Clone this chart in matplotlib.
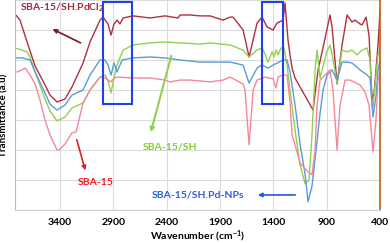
import matplotlib.pyplot as plt
from matplotlib.patches import Rectangle

plt.rcParams['font.family'] = ['Lato', 'DejaVu Sans']
plt.rcParams['font.weight'] = 'bold'
plt.rcParams['mathtext.fontset'] = 'custom'
plt.rcParams['mathtext.rm'] = 'Lato:bold'
plt.rcParams['mathtext.it'] = 'Lato:bold'
plt.rcParams['mathtext.bf'] = 'Lato:bold'

# SBA-15/SH.PdCl2
pdcl_wn = [3815, 3775, 3709, 3634, 3541, 3494, 3428, 3353, 3288, 3184, 3119, 3025, 2997,
           2950, 2922, 2894, 2866, 2838, 2809, 2716, 2556, 2416, 2294, 2275, 2181, 2088,
           1994, 1872, 1806, 1778, 1684, 1628, 1553, 1506, 1459, 1403, 1366, 1309, 1291,
           1263, 1244, 1225, 1197, 1028, 981, 923, 869, 850, 803, 756, 709, 663, 634, 588,
           569, 531, 503, 475, 456, 419, 400]
pdcl_t = [6.5, 6.33, 5.6, 4.8, 4.17, 3.83, 3.6, 3.7, 4.1, 4.9, 5.6, 6.33, 6.43,
          6.2, 5.83, 6.2, 6.33, 6.2, 6.4, 6.47, 6.4, 6.47, 6.4, 6.5, 6.5, 6.47,
          6.47, 6.33, 6.43, 6.43, 6.0, 5.1, 6.23, 6.43, 6.1, 6.0, 6.23, 6.33, 6.9,
          5.67, 5.17, 4.73, 4.4, 3.33, 4.67, 5.6, 6.5, 6.1, 4.2, 5.5, 6.5, 6.27, 6.33, 6.2,
          6.17, 6.43, 5.8, 3.67, 3.9, 5.5, 6.67]

# SBA-15/SH
sh_wn = [3822, 3756, 3709, 3681, 3634, 3541, 3494, 3428, 3353, 3288, 3184, 3119, 3025,
         2978, 2950, 2922, 2894, 2866, 2809, 2716, 2556, 2416, 2275, 2088, 1994, 1806,
         1684, 1628, 1553, 1506, 1478, 1450, 1412, 1394, 1375, 1356, 1328, 1300, 1272,
         1244, 1197, 1150, 1103, 1066, 1038, 1009, 991, 963, 897, 869, 850, 803, 756,
         709, 663, 616, 569, 522, 494, 475, 466, 438, 419, 400]
sh_t = [5.4, 5.33, 5.27, 5.1, 4.6, 3.7, 3.3, 2.97, 3.1, 3.4, 3.57, 4.0, 4.43,
        4.5, 4.3, 3.9, 4.4, 4.83, 5.33, 5.5, 5.57, 5.6, 5.57, 5.53, 5.57, 5.5,
        5.33, 5.1, 5.33, 5.4, 5.2, 4.93, 5.27, 5.1, 5.33, 5.17, 5.4, 5.4, 4.83,
        4.0, 2.67, 1.5, 0.87, 1.0, 2.5, 4.67, 5.33, 4.4, 5.3, 5.5, 5.2, 4.23, 5.33,
        5.27, 5.33, 5.17, 5.33, 5.4, 5.0, 3.43, 3.43, 4.5, 5.17, 5.4]

# SBA-15/SH.Pd-NPs
np_wn = [3822, 3756, 3681, 3634, 3541, 3494, 3428, 3353, 3288, 3184, 3119, 3025, 2978,
         2950, 2922, 2894, 2866, 2838, 2819, 2716, 2556, 2416, 2275, 2088, 1994, 1806,
         1684, 1628, 1553, 1506, 1450, 1403, 1309, 1272, 1244, 1197, 1150, 1103, 1075,
         1038, 1000, 963, 934, 897, 850, 803, 756, 709, 663, 588, 522, 494, 466, 438,
         419, 400]
np_t = [5.07, 5.07, 5.0, 4.6, 3.9, 3.53, 3.33, 3.5, 3.83, 4.0, 4.5, 5.0, 5.0,
        4.83, 4.5, 4.9, 4.6, 4.83, 5.0, 5.07, 5.1, 5.07, 5.0, 4.93, 4.93, 4.93,
        4.83, 4.23, 4.73, 4.83, 4.73, 4.83, 5.0, 5.0, 4.6, 3.5, 2.2, 1.2, 0.27,
        0.8, 2.0, 3.2, 4.0, 4.5, 4.67, 4.33, 4.93, 4.93, 4.9, 4.67, 4.5, 4.4, 3.1, 3.8,
        4.67, 5.0]

# SBA-15
sba_wn = [3803, 3756, 3728, 3681, 3634, 3588, 3541, 3494, 3428, 3409, 3353, 3288, 3250,
          3184, 3119, 3025, 2978, 2922, 2894, 2856, 2716, 2556, 2416, 2369, 2275, 2181,
          2088, 1994, 1872, 1806, 1684, 1666, 1628, 1590, 1553, 1478, 1403, 1375, 1356,
          1309, 1272, 1244, 1225, 1197, 1150, 1084, 1038, 1009, 991, 963, 869, 841, 803,
          775, 728, 681, 588, 541, 503, 466, 438, 419, 400]
sba_t = [4.6, 4.67, 4.73, 4.5, 4.2, 3.67, 3.0, 2.5, 2.0, 2.0, 2.2, 2.57, 2.6,
         3.57, 4.0, 4.43, 4.4, 4.27, 4.4, 4.43, 4.4, 4.4, 4.33, 4.27, 4.33, 4.33,
         4.3, 4.27, 4.33, 4.43, 4.2, 4.0, 2.17, 4.0, 4.33, 4.43, 4.37, 4.07, 4.43,
         4.5, 4.5, 3.6, 2.5, 2.17, 1.57, 1.3, 1.17, 2.0, 3.5, 4.33, 4.67, 4.0, 2.0,
         3.5, 4.33, 4.33, 4.17, 3.93, 3.5, 1.93, 3.0, 4.33, 4.6]

xticks = [3400, 2900, 2400, 1900, 1400, 900, 400]

fig = plt.figure(figsize=(3.9, 2.43), dpi=100)
ax = fig.add_axes([0.0385, 0.136, 0.936, 0.864])

ax.plot(pdcl_wn, pdcl_t, color='#b03040', lw=1.0)
ax.plot(sh_wn, sh_t, color='#92d050', lw=1.0)
ax.plot(np_wn, np_t, color='#5b9bd5', lw=1.0)
ax.plot(sba_wn, sba_t, color='#f4889a', lw=1.0)

ax.add_patch(Rectangle((2997, 3.53), -272, 3.4, fill=False, ec='#2040f0', lw=1.5, zorder=5))
ax.add_patch(Rectangle((1506, 3.53), -197, 3.4, fill=False, ec='#2040f0', lw=1.5, zorder=5))

ax.text(3381, 6.73, 'SBA-15/SH.PdCl$_2$', color='#a0283c', fontsize=7.5,
        ha='center', va='center', zorder=6)
ax.text(2369, 2.1, 'SBA-15/SH', color='#7ed321', fontsize=7.5, ha='center', va='center')
ax.text(3063, 0.9, 'SBA-15', color='#f01c24', fontsize=7.5, ha='center', va='center')
ax.text(2106, 0.5, 'SBA-15/SH.Pd-NPs', color='#2f5fd8', fontsize=7.5, ha='center', va='center')

ax.annotate('', xy=(3494, 6.07), xytext=(3184, 5.53),
            arrowprops=dict(arrowstyle='-|>', color='#7a1a20', lw=1.2, mutation_scale=6))
ax.annotate('', xy=(2556, 2.5), xytext=(2350, 5.23),
            arrowprops=dict(arrowstyle='-|>', color='#92d050', lw=1.5, mutation_scale=6))
ax.annotate('', xy=(3156, 1.23), xytext=(3250, 2.43),
            arrowprops=dict(arrowstyle='-|>', color='#e02020', lw=1.2, mutation_scale=6))
ax.annotate('', xy=(1572, 0.5), xytext=(1169, 0.5),
            arrowprops=dict(arrowstyle='-|>', color='#3050e0', lw=1.2, mutation_scale=6))

ax.set_xlim(3822, 400)
ax.set_ylim(0, 7)
ax.set_xticks(xticks)
ax.set_yticks(range(0, 8))
ax.set_yticklabels([])
ax.tick_params(axis='x', length=0, labelsize=7.5, pad=6)
ax.tick_params(axis='y', length=0)
ax.grid(True, color='#dcdcdc', lw=0.8)
ax.set_axisbelow(True)
ax.spines['top'].set_visible(False)
ax.spines['left'].set_color('#bfbfbf')
ax.spines['bottom'].set_color('#d0d0d0')
ax.spines['right'].set_color('#c55a11')
ax.spines['right'].set_linewidth(1.2)

ax.set_xlabel('Wavenumber (cm$^{-1}$)', fontsize=7.5, fontweight='bold', labelpad=1)
ax.set_ylabel('Transmittance (a.u)', fontsize=7, fontweight='bold')
ax.yaxis.set_label_coords(-0.019, 0.45)

fig.savefig('out.png', dpi=100)
